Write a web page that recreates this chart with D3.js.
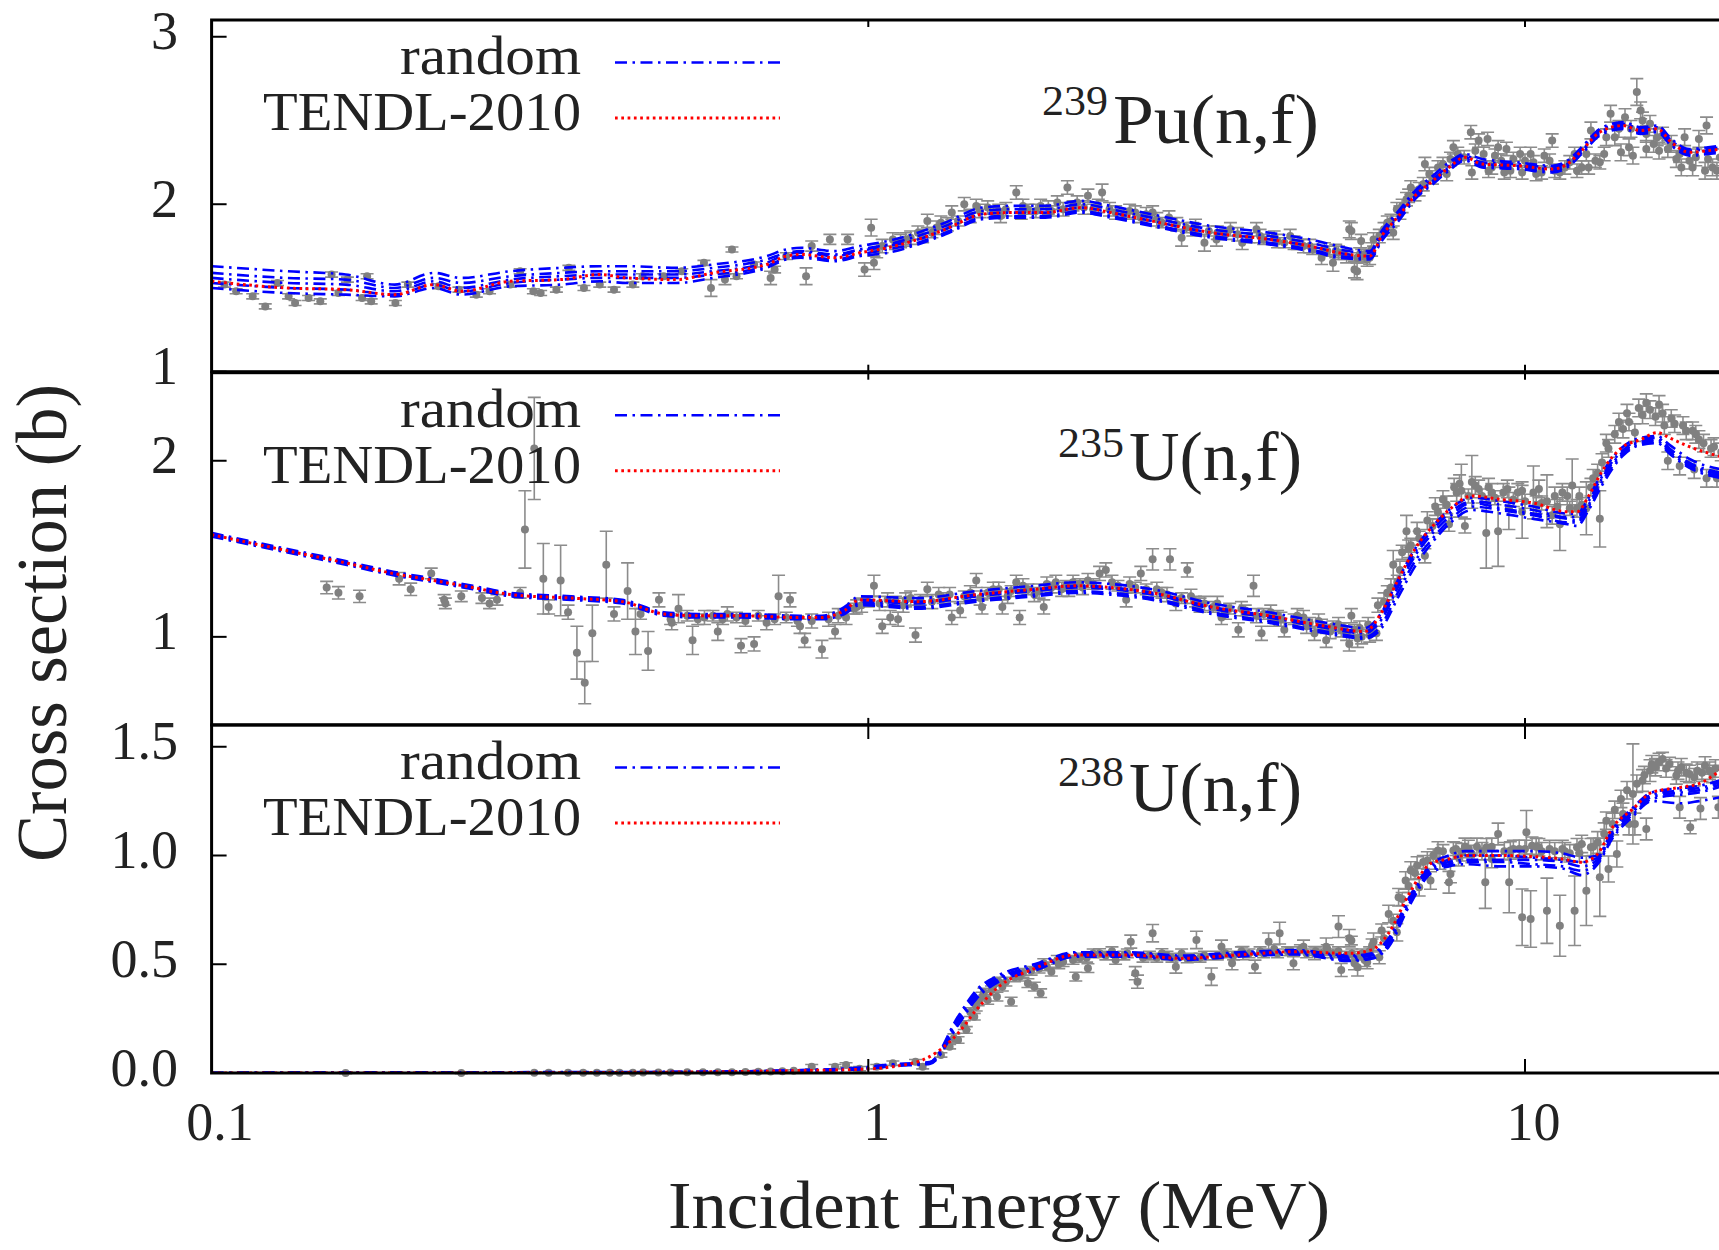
<!DOCTYPE html>
<html>
<head>
<meta charset="utf-8">
<script src="https://cdn.jsdelivr.net/npm/d3@7/dist/d3.min.js"></script>
<style>
    html, body { margin: 0; padding: 0; background: #fff; }
    svg text { fill: #222; }
</style>
</head>
<body>
<div id="chart"></div>
<script>
// ---------- 239Pu(n,f) ----------
const puEnergy = [0.1, 0.13, 0.16, 0.19, 0.218, 0.24, 0.285, 0.34, 0.39, 0.43, 0.51, 0.58, 0.7, 0.75, 0.79, 0.89, 0.97, 1.07, 1.19, 1.31,
    1.49, 1.65, 1.86, 2.11, 2.34, 2.7, 3.33, 4.08, 4.83, 5.2, 5.8, 6.05, 6.42, 6.8, 7.24, 7.66, 8.1, 8.6, 9.75, 11.0,
    11.6, 12.2, 13.0, 14.1, 15.0, 15.9, 16.7, 17.8, 19.0, 20.0];
const puTendl = [1.54, 1.50, 1.49, 1.46, 1.52, 1.48, 1.54, 1.55, 1.58, 1.56, 1.55, 1.59, 1.64, 1.69, 1.70, 1.68, 1.71, 1.74, 1.79, 1.85,
    1.94, 1.95, 1.95, 1.98, 1.95, 1.90, 1.83, 1.79, 1.74, 1.71, 1.69, 1.81, 1.93, 2.05, 2.14, 2.22, 2.28, 2.24, 2.23, 2.21,
    2.24, 2.32, 2.43, 2.47, 2.44, 2.45, 2.37, 2.31, 2.32, 2.33];
const puRandom = [
    [1.63, 1.60, 1.58, 1.52, 1.59, 1.56, 1.60, 1.62, 1.63, 1.63, 1.62, 1.64, 1.69, 1.73, 1.74, 1.72, 1.75, 1.78, 1.83, 1.89,
        1.98, 1.99, 1.99, 2.02, 1.99, 1.94, 1.87, 1.83, 1.78, 1.75, 1.72, 1.84, 1.96, 2.08, 2.17, 2.25, 2.30, 2.27, 2.25, 2.23,
        2.26, 2.34, 2.45, 2.49, 2.46, 2.47, 2.39, 2.33, 2.34, 2.35],
    [1.59, 1.56, 1.55, 1.50, 1.56, 1.53, 1.57, 1.59, 1.60, 1.60, 1.60, 1.62, 1.67, 1.71, 1.72, 1.70, 1.73, 1.76, 1.81, 1.87,
        1.96, 1.97, 1.97, 2.00, 1.97, 1.92, 1.85, 1.81, 1.76, 1.73, 1.71, 1.82, 1.94, 2.06, 2.15, 2.23, 2.29, 2.25, 2.24, 2.22,
        2.25, 2.33, 2.44, 2.48, 2.45, 2.46, 2.38, 2.32, 2.33, 2.34],
    [1.56, 1.53, 1.52, 1.48, 1.54, 1.50, 1.55, 1.57, 1.58, 1.58, 1.58, 1.60, 1.65, 1.70, 1.71, 1.69, 1.72, 1.75, 1.79, 1.85,
        1.94, 1.95, 1.95, 1.98, 1.95, 1.90, 1.83, 1.79, 1.74, 1.71, 1.69, 1.80, 1.93, 2.05, 2.14, 2.22, 2.28, 2.24, 2.23, 2.21,
        2.24, 2.32, 2.43, 2.47, 2.44, 2.45, 2.37, 2.31, 2.32, 2.33],
    [1.53, 1.50, 1.49, 1.46, 1.52, 1.48, 1.53, 1.55, 1.56, 1.56, 1.56, 1.58, 1.63, 1.68, 1.69, 1.67, 1.70, 1.73, 1.77, 1.83,
        1.92, 1.93, 1.93, 1.96, 1.93, 1.88, 1.81, 1.77, 1.72, 1.69, 1.68, 1.79, 1.92, 2.04, 2.13, 2.21, 2.27, 2.23, 2.22, 2.20,
        2.23, 2.31, 2.42, 2.46, 2.43, 2.44, 2.36, 2.30, 2.31, 2.32],
    [1.50, 1.47, 1.46, 1.45, 1.50, 1.46, 1.51, 1.52, 1.54, 1.53, 1.53, 1.56, 1.62, 1.67, 1.68, 1.66, 1.69, 1.71, 1.76, 1.82,
        1.91, 1.92, 1.92, 1.95, 1.92, 1.87, 1.80, 1.76, 1.71, 1.68, 1.67, 1.78, 1.90, 2.03, 2.12, 2.20, 2.26, 2.22, 2.21, 2.19,
        2.22, 2.30, 2.41, 2.45, 2.42, 2.43, 2.35, 2.29, 2.30, 2.31]
];
// [energy (MeV), cross section (b), error]
const puExp = [
    [0.1046, 1.52, 0.015], [0.109, 1.48, 0.015], [0.1155, 1.45, 0.015], [0.1207, 1.39, 0.015], [0.126, 1.53, 0.015],
    [0.131, 1.45, 0.015], [0.134, 1.41, 0.015], [0.1405, 1.44, 0.015], [0.1464, 1.42, 0.015], [0.1523, 1.58, 0.015],
    [0.156, 1.47, 0.015], [0.161, 1.55, 0.015], [0.1695, 1.44, 0.015], [0.1725, 1.57, 0.015], [0.175, 1.42, 0.015],
    [0.1905, 1.41, 0.015], [0.199, 1.52, 0.015], [0.2216, 1.51, 0.015], [0.238, 1.49, 0.015], [0.253, 1.46, 0.015],
    [0.265, 1.48, 0.015], [0.285, 1.52, 0.015], [0.295, 1.60, 0.015], [0.309, 1.48, 0.015], [0.317, 1.47, 0.015],
    [0.335, 1.49, 0.015], [0.35, 1.62, 0.015], [0.369, 1.50, 0.015], [0.39, 1.52, 0.015], [0.41, 1.49, 0.015],
    [0.438, 1.52, 0.015], [0.453, 1.57, 0.015], [0.488, 1.57, 0.015], [0.52, 1.60, 0.015], [0.562, 1.65, 0.015],
    [0.576, 1.50, 0.05], [0.605, 1.55, 0.03], [0.62, 1.73, 0.015], [0.63, 1.57, 0.015], [0.67, 1.64, 0.015],
    [0.71, 1.56, 0.04], [0.72, 1.61, 0.02], [0.75, 1.69, 0.02],
    [0.804, 1.57, 0.05], [0.82, 1.75, 0.03], [0.874, 1.79, 0.03], [0.93, 1.79, 0.03], [0.987, 1.61, 0.04],
    [1.01, 1.86, 0.05], [1.02, 1.65, 0.04], [1.05, 1.75, 0.04], [1.09, 1.79, 0.04], [1.14, 1.79, 0.04],
    [1.19, 1.83, 0.04], [1.23, 1.90, 0.04], [1.29, 1.89, 0.04], [1.34, 1.95, 0.04], [1.40, 2.00, 0.04],
    [1.46, 1.99, 0.04], [1.52, 1.98, 0.04], [1.59, 1.93, 0.04], [1.68, 2.07, 0.04], [1.71, 1.95, 0.04],
    [1.83, 1.99, 0.04], [1.94, 2.01, 0.04], [2.01, 2.10, 0.04], [2.16, 2.05, 0.04], [2.27, 2.07, 0.05],
    [2.38, 1.95, 0.04], [2.55, 1.95, 0.04], [2.71, 1.95, 0.04], [2.87, 1.92, 0.04], [3.0, 1.80, 0.05],
    [3.12, 1.85, 0.04], [3.25, 1.77, 0.05], [3.39, 1.79, 0.04], [3.56, 1.85, 0.04], [3.71, 1.77, 0.04],
    [3.9, 1.85, 0.04], [4.15, 1.80, 0.04], [4.39, 1.81, 0.04], [4.6, 1.75, 0.04], [4.9, 1.68, 0.04],
    [5.1, 1.65, 0.05], [5.2, 1.71, 0.04], [5.4, 1.85, 0.05], [5.5, 1.61, 0.05], [5.64, 1.69, 0.04], [5.84, 1.73, 0.04],
    [1.1, 1.76, 0.03], [1.25, 1.83, 0.03], [1.37, 1.90, 0.03], [1.55, 1.95, 0.03], [1.75, 1.97, 0.03],
    [1.9, 1.96, 0.03], [2.05, 1.99, 0.03], [2.2, 1.97, 0.03], [2.45, 1.94, 0.03], [2.6, 1.92, 0.03],
    [2.8, 1.89, 0.03], [3.05, 1.86, 0.03], [3.3, 1.84, 0.03], [3.5, 1.82, 0.03], [3.8, 1.80, 0.03],
    [4.0, 1.79, 0.03], [4.3, 1.77, 0.03], [4.5, 1.76, 0.03], [4.75, 1.73, 0.03], [5.0, 1.72, 0.03],
    [5.3, 1.70, 0.03], [5.55, 1.68, 0.03], [5.7, 1.70, 0.03],
    [1.03, 1.72, 0.04], [1.12, 1.78, 0.04], [1.16, 1.80, 0.04], [1.21, 1.81, 0.04], [1.27, 1.86, 0.04],
    [1.32, 1.88, 0.04], [1.43, 1.93, 0.04], [1.48, 1.96, 0.04], [1.58, 1.96, 0.04], [1.62, 1.97, 0.04],
    [1.72, 1.99, 0.04], [1.8, 1.96, 0.04], [1.88, 1.98, 0.04], [1.98, 1.97, 0.04], [2.08, 2.01, 0.04],
    [2.13, 1.98, 0.04], [2.24, 1.99, 0.04], [2.33, 1.97, 0.04], [2.5, 1.96, 0.04], [2.65, 1.94, 0.04],
    [2.75, 1.91, 0.04], [2.95, 1.88, 0.04], [3.15, 1.87, 0.04], [3.4, 1.83, 0.04], [3.65, 1.82, 0.04],
    [3.95, 1.81, 0.04], [4.2, 1.78, 0.04], [4.45, 1.77, 0.04], [4.7, 1.75, 0.04], [4.95, 1.73, 0.04],
    [5.15, 1.72, 0.04], [5.35, 1.69, 0.04], [5.6, 1.70, 0.04], [5.8, 1.68, 0.04],
    [5.44, 1.84, 0.05], [5.55, 1.60, 0.05], [5.63, 1.78, 0.04], [5.75, 1.67, 0.04], [5.88, 1.79, 0.04],
    [6.0, 1.81, 0.04], [6.17, 1.89, 0.04], [6.3, 1.83, 0.04], [6.38, 1.97, 0.04], [6.5, 1.99, 0.04],
    [6.6, 2.03, 0.04], [6.7, 2.10, 0.04], [6.9, 2.09, 0.04], [7.04, 2.24, 0.04], [7.23, 2.16, 0.04],
    [7.37, 2.22, 0.04], [7.6, 2.18, 0.04], [7.78, 2.34, 0.04], [8.08, 2.28, 0.04], [8.27, 2.43, 0.04],
    [8.5, 2.38, 0.04], [8.77, 2.39, 0.04], [8.9, 2.22, 0.04], [9.1, 2.34, 0.04], [9.37, 2.33, 0.04],
    [9.5, 2.20, 0.04], [9.83, 2.30, 0.04], [10.2, 2.30, 0.04], [10.4, 2.18, 0.04], [10.7, 2.29, 0.04],
    [11.0, 2.38, 0.04], [11.1, 2.20, 0.04], [11.5, 2.22, 0.04], [11.9, 2.30, 0.04], [12.2, 2.22, 0.04],
    [12.6, 2.44, 0.05], [12.8, 2.26, 0.04], [13.2, 2.30, 0.04], [13.5, 2.54, 0.05], [13.7, 2.40, 0.05],
    [14.2, 2.52, 0.05], [14.4, 2.34, 0.05], [14.6, 2.29, 0.05], [14.8, 2.67, 0.08], [15.0, 2.56, 0.05],
    [15.1, 2.50, 0.05], [15.5, 2.48, 0.05], [15.7, 2.36, 0.05], [16.2, 2.41, 0.05], [16.7, 2.36, 0.05],
    [17.3, 2.22, 0.05], [17.5, 2.40, 0.05], [17.8, 2.26, 0.05], [18.4, 2.39, 0.05], [18.8, 2.20, 0.05],
    [18.9, 2.47, 0.05], [19.3, 2.22, 0.05],
    [8.3, 2.19, 0.04], [8.8, 2.20, 0.04], [9.3, 2.19, 0.04], [9.9, 2.19, 0.04], [10.6, 2.19, 0.04],
    [11.3, 2.19, 0.04], [12.0, 2.20, 0.04], [12.5, 2.22, 0.04], [13.0, 2.25, 0.04], [14.0, 2.31, 0.05],
    [15.3, 2.33, 0.05], [16.0, 2.32, 0.05], [17.0, 2.27, 0.05], [18.0, 2.22, 0.05], [19.6, 2.20, 0.05],
    [6.1, 1.85, 0.04], [6.25, 1.90, 0.04], [6.45, 1.95, 0.04], [6.65, 2.05, 0.04], [6.8, 2.06, 0.04],
    [7.0, 2.12, 0.04], [7.15, 2.18, 0.04], [7.5, 2.24, 0.04], [7.7, 2.27, 0.04], [7.9, 2.30, 0.04],
    [8.4, 2.32, 0.04], [8.65, 2.30, 0.04], [9.0, 2.29, 0.04], [9.2, 2.26, 0.04], [9.6, 2.27, 0.04],
    [10.0, 2.26, 0.04], [10.3, 2.25, 0.04], [10.9, 2.26, 0.04], [11.7, 2.25, 0.04], [12.4, 2.30, 0.04],
    [13.3, 2.40, 0.05], [13.9, 2.45, 0.05], [14.5, 2.45, 0.05], [15.3, 2.42, 0.05], [15.9, 2.40, 0.05],
    [16.5, 2.33, 0.05], [17.2, 2.30, 0.05], [18.2, 2.28, 0.05], [19.0, 2.27, 0.05], [19.8, 2.28, 0.05]
];
const puTicks = [1, 2, 3];
const puTickLabels = ["1", "2", "3"];

// ---------- 235U(n,f) ----------
const u235Energy = [0.1, 0.13, 0.16, 0.189, 0.218, 0.25, 0.285, 0.353, 0.422, 0.488, 0.55, 0.635, 0.787, 0.85, 0.92, 0.97, 1.19, 1.46, 1.79, 2.07,
    2.34, 2.71, 3.33, 4.07, 4.98, 5.7, 6.05, 6.42, 6.8, 7.24, 7.66, 8.3, 9.2, 10.3, 11.6, 12.0, 12.5, 13.1, 14.1, 15.0,
    15.9, 16.6, 17.8, 20.0];
const u235Tendl = [1.58, 1.49, 1.42, 1.36, 1.32, 1.28, 1.24, 1.22, 1.20, 1.13, 1.12, 1.12, 1.11, 1.11, 1.15, 1.21, 1.20, 1.24, 1.27, 1.29,
    1.28, 1.25, 1.17, 1.12, 1.06, 1.03, 1.14, 1.33, 1.50, 1.63, 1.72, 1.80, 1.78, 1.76, 1.71, 1.71, 1.80, 1.94, 2.08, 2.12,
    2.16, 2.13, 2.08, 2.02];
const u235Random = [
    [1.59, 1.50, 1.43, 1.37, 1.33, 1.29, 1.25, 1.23, 1.21, 1.14, 1.13, 1.13, 1.12, 1.12, 1.17, 1.23, 1.22, 1.26, 1.29, 1.31,
        1.30, 1.27, 1.19, 1.14, 1.08, 1.05, 1.14, 1.33, 1.50, 1.63, 1.72, 1.79, 1.77, 1.74, 1.70, 1.70, 1.79, 1.93, 2.08, 2.13,
        2.14, 2.09, 2.01, 1.95],
    [1.585, 1.495, 1.425, 1.365, 1.325, 1.285, 1.245, 1.225, 1.205, 1.135, 1.125, 1.125, 1.115, 1.115, 1.16, 1.21, 1.20, 1.24, 1.27, 1.29,
        1.28, 1.25, 1.17, 1.12, 1.06, 1.03, 1.12, 1.31, 1.48, 1.61, 1.70, 1.77, 1.75, 1.72, 1.68, 1.68, 1.77, 1.91, 2.06, 2.12,
        2.13, 2.07, 1.99, 1.93],
    [1.58, 1.49, 1.42, 1.36, 1.32, 1.28, 1.24, 1.22, 1.20, 1.13, 1.12, 1.12, 1.11, 1.11, 1.15, 1.20, 1.19, 1.23, 1.26, 1.28,
        1.27, 1.24, 1.16, 1.11, 1.05, 1.02, 1.10, 1.29, 1.46, 1.59, 1.68, 1.76, 1.73, 1.70, 1.67, 1.66, 1.75, 1.90, 2.05, 2.11,
        2.12, 2.06, 1.98, 1.92],
    [1.575, 1.485, 1.415, 1.355, 1.315, 1.275, 1.235, 1.215, 1.195, 1.125, 1.115, 1.115, 1.105, 1.105, 1.14, 1.19, 1.17, 1.21, 1.24, 1.26,
        1.25, 1.22, 1.14, 1.09, 1.03, 1.00, 1.07, 1.26, 1.43, 1.56, 1.66, 1.74, 1.72, 1.69, 1.65, 1.65, 1.74, 1.88, 2.04, 2.10,
        2.11, 2.05, 1.97, 1.91],
    [1.57, 1.48, 1.41, 1.35, 1.31, 1.27, 1.23, 1.21, 1.19, 1.12, 1.11, 1.11, 1.10, 1.10, 1.13, 1.18, 1.16, 1.20, 1.23, 1.25,
        1.24, 1.21, 1.13, 1.08, 1.02, 0.99, 1.05, 1.23, 1.40, 1.54, 1.64, 1.72, 1.70, 1.67, 1.64, 1.63, 1.72, 1.86, 2.03, 2.09,
        2.10, 2.04, 1.96, 1.90]
];
const u235Exp = [
    [0.1497, 1.28, 0.035], [0.156, 1.25, 0.035], [0.168, 1.23, 0.035], [0.193, 1.33, 0.035], [0.201, 1.27, 0.035],
    [0.216, 1.36, 0.03], [0.226, 1.21, 0.03], [0.227, 1.19, 0.03], [0.24, 1.23, 0.03], [0.258, 1.22, 0.03],
    [0.265, 1.19, 0.03], [0.272, 1.21, 0.03], [0.295, 1.25, 0.03], [0.30, 1.61, 0.22], [0.31, 2.07, 0.29],
    [0.32, 1.33, 0.2], [0.326, 1.17, 0.04], [0.34, 1.32, 0.2], [0.349, 1.14, 0.04], [0.36, 0.91, 0.15],
    [0.37, 0.74, 0.12], [0.38, 1.02, 0.16], [0.399, 1.41, 0.19], [0.41, 1.13, 0.04], [0.43, 1.26, 0.16],
    [0.442, 1.03, 0.13], [0.462, 0.92, 0.11], [0.48, 1.21, 0.04], [0.502, 1.08, 0.04], [0.514, 1.16, 0.08],
    [0.54, 0.98, 0.08], [0.563, 1.11, 0.04], [0.59, 1.03, 0.05], [0.61, 1.13, 0.04], [0.64, 0.95, 0.04],
    [0.67, 0.96, 0.04], [0.70, 1.08, 0.04], [0.73, 1.23, 0.12], [0.76, 1.21, 0.04],
    [0.45, 1.13, 0.03], [0.5, 1.10, 0.03], [0.53, 1.12, 0.03], [0.55, 1.10, 0.03], [0.58, 1.12, 0.03],
    [0.6, 1.10, 0.03], [0.63, 1.11, 0.03], [0.65, 1.09, 0.03], [0.68, 1.12, 0.03], [0.72, 1.10, 0.03],
    [0.75, 1.11, 0.03], [0.78, 1.09, 0.03],
    [0.787, 1.06, 0.04], [0.80, 0.98, 0.04], [0.85, 0.93, 0.05], [0.89, 1.03, 0.04], [0.925, 1.11, 0.04],
    [0.977, 1.18, 0.04], [1.02, 1.29, 0.06], [1.05, 1.06, 0.04], [1.08, 1.11, 0.04], [1.11, 1.10, 0.04],
    [1.14, 1.21, 0.04], [1.18, 1.01, 0.04], [1.23, 1.27, 0.04], [1.28, 1.24, 0.04], [1.34, 1.11, 0.04],
    [1.38, 1.15, 0.04], [1.46, 1.32, 0.04], [1.49, 1.17, 0.04], [1.55, 1.27, 0.04], [1.6, 1.17, 0.04],
    [1.68, 1.31, 0.04], [1.7, 1.11, 0.04], [1.79, 1.24, 0.04], [1.85, 1.17, 0.04], [1.93, 1.31, 0.04],
    [2.02, 1.27, 0.04], [2.16, 1.32, 0.04], [2.25, 1.36, 0.04], [2.3, 1.38, 0.04], [2.47, 1.21, 0.04],
    [2.6, 1.36, 0.04], [2.71, 1.44, 0.06], [2.88, 1.44, 0.06], [2.94, 1.19, 0.04], [3.06, 1.38, 0.04],
    [3.25, 1.19, 0.04], [3.45, 1.11, 0.04], [3.66, 1.04, 0.04], [3.86, 1.29, 0.06], [3.97, 1.02, 0.04],
    [4.15, 1.10, 0.04], [4.3, 1.04, 0.04], [4.6, 1.11, 0.04], [4.78, 1.02, 0.04], [4.98, 0.98, 0.04],
    [5.25, 1.04, 0.04], [5.4, 0.96, 0.04], [5.64, 1.0, 0.04], [5.94, 1.02, 0.04],
    [0.95, 1.16, 0.03], [1.0, 1.20, 0.03], [1.1, 1.20, 0.03], [1.2, 1.21, 0.03], [1.3, 1.22, 0.03],
    [1.4, 1.23, 0.03], [1.52, 1.25, 0.03], [1.65, 1.26, 0.03], [1.75, 1.27, 0.03], [1.9, 1.28, 0.03],
    [2.0, 1.29, 0.03], [2.1, 1.30, 0.03], [2.2, 1.30, 0.03], [2.4, 1.29, 0.03], [2.55, 1.28, 0.03],
    [2.65, 1.27, 0.03], [2.8, 1.25, 0.03], [3.0, 1.22, 0.03], [3.15, 1.20, 0.03], [3.35, 1.17, 0.03],
    [3.55, 1.16, 0.03], [3.75, 1.15, 0.03], [4.0, 1.13, 0.03], [4.2, 1.12, 0.03], [4.45, 1.10, 0.03],
    [4.7, 1.08, 0.03], [4.9, 1.07, 0.03], [5.1, 1.06, 0.03], [5.3, 1.05, 0.03], [5.5, 1.04, 0.03],
    [0.82, 1.09, 0.04], [0.87, 1.10, 0.04], [0.9, 1.12, 0.04], [0.96, 1.17, 0.04], [1.04, 1.19, 0.04],
    [1.07, 1.21, 0.04], [1.13, 1.18, 0.04], [1.16, 1.22, 0.04], [1.25, 1.20, 0.04], [1.33, 1.24, 0.04],
    [1.43, 1.25, 0.04], [1.48, 1.22, 0.04], [1.58, 1.27, 0.04], [1.63, 1.23, 0.04], [1.72, 1.29, 0.04],
    [1.82, 1.26, 0.04], [1.87, 1.30, 0.04], [1.97, 1.27, 0.04], [2.05, 1.31, 0.04], [2.12, 1.28, 0.04],
    [2.35, 1.31, 0.04], [2.5, 1.30, 0.04], [2.75, 1.27, 0.04], [2.85, 1.24, 0.04], [3.1, 1.23, 0.04],
    [3.2, 1.18, 0.04], [3.4, 1.19, 0.04], [3.5, 1.14, 0.04], [3.7, 1.16, 0.04], [3.9, 1.12, 0.04],
    [4.1, 1.14, 0.04], [4.25, 1.10, 0.04], [4.5, 1.12, 0.04], [4.65, 1.06, 0.04], [4.85, 1.09, 0.04],
    [5.05, 1.03, 0.04], [5.2, 1.07, 0.04], [5.35, 1.02, 0.04], [5.6, 1.05, 0.04], [5.8, 1.01, 0.04],
    [5.44, 1.12, 0.04], [5.56, 0.99, 0.05], [5.77, 1.07, 0.04], [5.97, 1.18, 0.04], [6.17, 1.25, 0.04],
    [6.3, 1.41, 0.08], [6.39, 1.31, 0.04], [6.5, 1.48, 0.04], [6.6, 1.60, 0.09], [6.7, 1.52, 0.04],
    [6.9, 1.56, 0.04], [7.04, 1.46, 0.04], [7.23, 1.63, 0.04], [7.37, 1.71, 0.04], [7.6, 1.75, 0.05],
    [7.66, 1.64, 0.04], [7.87, 1.82, 0.05], [8.0, 1.83, 0.15], [8.1, 1.63, 0.04], [8.3, 1.88, 0.15],
    [8.5, 1.84, 0.05], [8.73, 1.59, 0.2], [8.9, 1.82, 0.05], [9.1, 1.60, 0.2], [9.27, 1.82, 0.05],
    [9.45, 1.73, 0.12], [9.75, 1.82, 0.05], [9.9, 1.71, 0.15], [10.3, 1.82, 0.15], [10.4, 1.75, 0.05],
    [10.8, 1.77, 0.15], [11.0, 1.69, 0.05], [11.3, 1.64, 0.15], [11.4, 1.82, 0.05], [11.8, 1.86, 0.15],
    [12.0, 1.73, 0.05], [12.4, 1.73, 0.15], [12.7, 1.90, 0.05], [13.0, 1.67, 0.16], [13.1, 1.99, 0.05],
    [13.4, 2.07, 0.05], [13.7, 2.15, 0.05], [14.1, 2.18, 0.05], [14.4, 2.22, 0.05], [14.7, 2.16, 0.05],
    [15.1, 2.26, 0.05], [15.5, 2.29, 0.05], [16.0, 2.32, 0.05], [16.3, 2.20, 0.05], [16.5, 2.0, 0.05],
    [16.9, 2.21, 0.05], [17.2, 1.97, 0.05], [17.6, 2.17, 0.05], [18.0, 2.17, 0.05], [18.1, 1.95, 0.05],
    [18.4, 2.12, 0.05], [18.9, 1.90, 0.05], [19.2, 2.07, 0.05], [19.6, 1.90, 0.05],
    [8.2, 1.80, 0.04], [8.6, 1.80, 0.04], [9.0, 1.79, 0.04], [9.6, 1.78, 0.04], [10.0, 1.77, 0.04],
    [10.6, 1.76, 0.04], [11.2, 1.74, 0.04], [11.7, 1.73, 0.04], [12.2, 1.75, 0.04],
    [6.1, 1.20, 0.05], [6.25, 1.28, 0.05], [6.45, 1.38, 0.05], [6.65, 1.50, 0.05], [6.85, 1.60, 0.05],
    [7.1, 1.66, 0.05], [7.3, 1.74, 0.05], [7.5, 1.78, 0.05], [7.8, 1.85, 0.05], [7.95, 1.87, 0.05],
    [8.4, 1.86, 0.05], [8.8, 1.85, 0.05], [9.4, 1.84, 0.05], [9.9, 1.83, 0.05], [10.5, 1.84, 0.05],
    [11.1, 1.80, 0.05], [11.6, 1.80, 0.05], [12.1, 1.80, 0.05], [12.6, 1.85, 0.05], [12.9, 1.93, 0.05],
    [13.3, 2.10, 0.05], [13.9, 2.22, 0.05], [14.3, 2.27, 0.05], [14.9, 2.30, 0.05], [15.3, 2.33, 0.05],
    [15.8, 2.25, 0.05], [16.2, 2.27, 0.05], [16.7, 2.24, 0.05], [17.4, 2.20, 0.05], [18.2, 2.15, 0.05],
    [18.7, 2.10, 0.05], [19.4, 2.08, 0.05], [19.9, 2.05, 0.05]
];
const u235Ticks = [1, 2];
const u235TickLabels = ["1", "2"];

// ---------- 238U(n,f) ----------
const u238Energy = [0.1, 0.2, 0.5, 0.787, 0.97, 1.09, 1.24, 1.37, 1.46, 1.58, 1.79, 2.07, 2.5, 3.0, 3.66, 4.48, 5.4, 5.84, 6.2, 6.67,
    7.2, 7.66, 8.1, 9.2, 10.3, 11.4, 12.2, 12.9, 13.6, 14.6, 15.6, 17.3, 18.4, 20.0];
const u238Tendl = [0, 0, 0.004, 0.011, 0.017, 0.029, 0.075, 0.183, 0.29, 0.397, 0.48, 0.543, 0.543, 0.527, 0.543, 0.558, 0.55, 0.566, 0.643, 0.827,
    0.965, 0.984, 1.0, 1.0, 0.995, 0.984, 0.969, 1.007, 1.13, 1.214, 1.29, 1.314, 1.33, 1.40];
const u238Random = [
    [0, 0.003, 0.005, 0.013, 0.025, 0.04, 0.05, 0.26, 0.38, 0.45, 0.50, 0.555, 0.555, 0.54, 0.555, 0.565, 0.54, 0.55, 0.62, 0.81,
        0.96, 1.0, 1.02, 1.02, 1.02, 1.01, 0.99, 1.0, 1.12, 1.22, 1.29, 1.31, 1.32, 1.35],
    [0, 0.002, 0.004, 0.012, 0.022, 0.038, 0.048, 0.25, 0.37, 0.44, 0.49, 0.55, 0.55, 0.535, 0.55, 0.56, 0.535, 0.545, 0.61, 0.80,
        0.95, 0.98, 1.0, 1.0, 0.99, 0.98, 0.97, 0.99, 1.11, 1.21, 1.28, 1.30, 1.31, 1.34],
    [0, 0.001, 0.004, 0.011, 0.02, 0.036, 0.046, 0.24, 0.36, 0.435, 0.485, 0.545, 0.545, 0.53, 0.545, 0.555, 0.53, 0.54, 0.60, 0.79,
        0.94, 0.97, 0.98, 0.98, 0.98, 0.97, 0.95, 0.98, 1.10, 1.20, 1.27, 1.29, 1.30, 1.33],
    [0, 0.001, 0.003, 0.010, 0.018, 0.034, 0.044, 0.23, 0.35, 0.43, 0.48, 0.54, 0.54, 0.525, 0.54, 0.55, 0.52, 0.53, 0.59, 0.78,
        0.93, 0.96, 0.97, 0.97, 0.96, 0.95, 0.93, 0.97, 1.09, 1.19, 1.26, 1.28, 1.29, 1.32],
    [0, 0, 0.003, 0.009, 0.016, 0.032, 0.042, 0.22, 0.34, 0.42, 0.47, 0.535, 0.535, 0.52, 0.535, 0.545, 0.515, 0.525, 0.58, 0.77,
        0.92, 0.95, 0.96, 0.95, 0.95, 0.94, 0.91, 0.96, 1.08, 1.18, 1.25, 1.24, 1.25, 1.27]
];
const u238Exp = [
    [0.16, 0.0, 0.003], [0.24, 0.0, 0.003], [0.31, 0.001, 0.003], [0.326, 0.001, 0.003], [0.349, 0.001, 0.003],
    [0.368, 0.001, 0.003], [0.386, 0.001, 0.003], [0.404, 0.001, 0.003], [0.418, 0.001, 0.003], [0.438, 0.001, 0.003],
    [0.454, 0.002, 0.003], [0.479, 0.002, 0.003], [0.5, 0.002, 0.003], [0.53, 0.003, 0.004], [0.56, 0.003, 0.004],
    [0.59, 0.004, 0.004], [0.62, 0.004, 0.004], [0.65, 0.005, 0.004], [0.68, 0.006, 0.005], [0.71, 0.007, 0.005],
    [0.74, 0.008, 0.005], [0.77, 0.01, 0.005],
    [0.82, 0.029, 0.01], [0.89, 0.029, 0.01], [0.925, 0.037, 0.01], [0.97, 0.02, 0.01], [1.03, 0.029, 0.01],
    [1.09, 0.045, 0.01], [1.18, 0.052, 0.01], [1.21, 0.029, 0.01], [1.29, 0.083, 0.01], [1.33, 0.121, 0.01],
    [1.37, 0.152, 0.015], [1.41, 0.198, 0.015], [1.45, 0.259, 0.015], [1.46, 0.305, 0.02], [1.49, 0.351, 0.02],
    [1.52, 0.336, 0.02], [1.57, 0.351, 0.02], [1.6, 0.397, 0.02], [1.65, 0.328, 0.02], [1.70, 0.443, 0.02],
    [1.75, 0.413, 0.02], [1.79, 0.397, 0.02], [1.83, 0.367, 0.02], [1.85, 0.505, 0.02], [1.9, 0.466, 0.02],
    [1.94, 0.52, 0.02], [2.07, 0.443, 0.02], [2.16, 0.482, 0.02], [2.25, 0.551, 0.02], [2.38, 0.52, 0.02],
    [2.51, 0.604, 0.03], [2.55, 0.459, 0.03], [2.57, 0.42, 0.03], [2.71, 0.643, 0.04], [2.8, 0.551, 0.02],
    [2.94, 0.489, 0.03], [3.06, 0.527, 0.02], [3.16, 0.612, 0.04], [3.33, 0.443, 0.04], [3.45, 0.581, 0.03],
    [3.58, 0.505, 0.03], [3.72, 0.551, 0.03], [3.88, 0.489, 0.03], [4.07, 0.604, 0.04], [4.23, 0.643, 0.05],
    [4.44, 0.505, 0.03], [4.6, 0.581, 0.03], [4.78, 0.551, 0.03], [4.98, 0.581, 0.04], [5.2, 0.673, 0.05],
    [5.25, 0.474, 0.03], [5.4, 0.62, 0.04], [5.5, 0.505, 0.03], [5.7, 0.52, 0.03], [5.88, 0.604, 0.04],
    [1.55, 0.40, 0.02], [1.62, 0.42, 0.02], [1.72, 0.46, 0.02], [1.82, 0.48, 0.02], [1.95, 0.50, 0.02],
    [2.05, 0.52, 0.02], [2.15, 0.53, 0.02], [2.3, 0.54, 0.02], [2.45, 0.54, 0.02], [2.62, 0.53, 0.02],
    [2.75, 0.53, 0.02], [2.9, 0.53, 0.02], [3.1, 0.53, 0.02], [3.25, 0.54, 0.02], [3.4, 0.54, 0.02],
    [3.6, 0.54, 0.02], [3.8, 0.55, 0.02], [4.0, 0.55, 0.02], [4.2, 0.55, 0.02], [4.4, 0.56, 0.02],
    [4.65, 0.55, 0.02], [4.9, 0.55, 0.02], [5.1, 0.55, 0.02], [5.35, 0.54, 0.02], [5.6, 0.54, 0.02],
    [1.35, 0.16, 0.02], [1.4, 0.22, 0.02], [1.43, 0.28, 0.02], [1.47, 0.33, 0.02], [1.5, 0.37, 0.02],
    [1.54, 0.38, 0.02], [1.58, 0.42, 0.02], [1.67, 0.44, 0.02], [1.77, 0.47, 0.02], [1.87, 0.49, 0.02],
    [1.98, 0.51, 0.02], [2.1, 0.53, 0.02], [2.2, 0.55, 0.02], [2.35, 0.56, 0.02], [2.48, 0.55, 0.02],
    [2.68, 0.54, 0.02], [2.85, 0.54, 0.02], [3.0, 0.55, 0.02], [3.2, 0.53, 0.02], [3.5, 0.55, 0.02],
    [3.7, 0.56, 0.02], [3.95, 0.56, 0.02], [4.15, 0.57, 0.02], [4.35, 0.56, 0.02], [4.55, 0.57, 0.02],
    [4.8, 0.56, 0.02], [5.0, 0.57, 0.02], [5.2, 0.56, 0.02], [5.45, 0.55, 0.02], [5.65, 0.55, 0.02],
    [5.8, 0.56, 0.02],
    [5.44, 0.609, 0.02], [5.56, 0.486, 0.04], [5.75, 0.509, 0.03], [5.85, 0.586, 0.03], [6.0, 0.532, 0.03],
    [6.05, 0.655, 0.03], [6.2, 0.731, 0.04], [6.38, 0.647, 0.04], [6.42, 0.808, 0.04], [6.58, 0.885, 0.04],
    [6.7, 0.931, 0.04], [6.85, 0.954, 0.04], [6.9, 0.854, 0.04], [7.1, 0.977, 0.04], [7.18, 0.885, 0.04],
    [7.37, 1.023, 0.04], [7.42, 0.977, 0.04], [7.66, 0.877, 0.05], [7.7, 0.915, 0.04], [7.78, 1.023, 0.04],
    [7.92, 0.992, 0.04], [8.03, 1.015, 0.04], [8.3, 1.007, 0.04], [8.7, 0.877, 0.12], [8.74, 1.038, 0.04],
    [8.9, 0.984, 0.04], [9.1, 1.099, 0.05], [9.46, 0.877, 0.14], [9.5, 1.023, 0.04], [9.9, 0.716, 0.13],
    [10.05, 1.107, 0.1], [10.2, 0.708, 0.13], [10.25, 1.045, 0.04], [10.5, 1.038, 0.04], [10.8, 0.746, 0.15],
    [11.3, 0.677, 0.14], [11.4, 1.03, 0.04], [11.9, 0.746, 0.16], [12.0, 1.038, 0.04], [12.2, 1.053, 0.04],
    [12.4, 0.838, 0.16], [12.6, 1.038, 0.04], [13.0, 0.9, 0.18], [13.4, 0.938, 0.06], [13.6, 1.145, 0.05],
    [13.8, 1.007, 0.06], [14.1, 1.191, 0.05], [14.4, 1.145, 0.05], [14.6, 1.283, 0.23], [14.7, 1.145, 0.05],
    [15.1, 1.345, 0.05], [15.3, 1.122, 0.05], [15.5, 1.39, 0.05], [15.8, 1.406, 0.04], [16.2, 1.444, 0.03],
    [16.6, 1.421, 0.03], [17.0, 1.368, 0.04], [17.2, 1.222, 0.05], [17.3, 1.406, 0.04], [17.8, 1.375, 0.04],
    [17.85, 1.13, 0.03], [18.3, 1.39, 0.04], [18.5, 1.216, 0.05], [18.8, 1.414, 0.04], [19.3, 1.375, 0.04],
    [19.7, 1.222, 0.05],
    [8.2, 1.03, 0.04], [8.6, 1.02, 0.04], [9.3, 1.02, 0.04], [9.8, 1.03, 0.04], [10.6, 1.02, 0.04],
    [11.1, 1.02, 0.04], [11.7, 1.01, 0.04], [12.9, 1.06, 0.05], [13.2, 1.10, 0.05],
    [6.1, 0.62, 0.03], [6.3, 0.70, 0.03], [6.5, 0.80, 0.03], [6.65, 0.86, 0.03], [6.8, 0.92, 0.03],
    [7.0, 0.97, 0.03], [7.25, 1.0, 0.03], [7.5, 1.02, 0.03], [7.85, 1.03, 0.03],
    [8.1, 1.04, 0.04], [8.45, 1.04, 0.04], [8.9, 1.04, 0.04], [9.6, 1.03, 0.04], [10.0, 1.03, 0.04],
    [10.4, 1.04, 0.04], [10.9, 1.03, 0.04], [11.5, 1.02, 0.04], [12.1, 1.01, 0.04], [12.7, 1.04, 0.04],
    [13.3, 1.16, 0.04], [13.7, 1.21, 0.04], [14.0, 1.26, 0.04], [14.3, 1.30, 0.04], [14.8, 1.33, 0.04],
    [15.2, 1.37, 0.04], [15.6, 1.42, 0.04], [16.0, 1.43, 0.04], [16.4, 1.40, 0.04], [17.1, 1.39, 0.04],
    [17.6, 1.38, 0.04], [18.1, 1.36, 0.04], [18.6, 1.38, 0.04], [19.1, 1.39, 0.04], [19.5, 1.40, 0.04]
];
const u238Ticks = [0, 0.5, 1.0, 1.5];
const u238TickLabels = ["0.0", "0.5", "1.0", "1.5"];

// x axis
const energyTicks = [0.1, 1, 10];
const energyTickLabels = ["0.1", "1", "10"];

const panels = [
    { energy: puEnergy, tendl: puTendl, random: puRandom, exp: puExp, yDomain: [1, 3.1], ticks: puTicks, tickLabels: puTickLabels, iso: "239", reaction: "Pu(n,f)" },
    { energy: u235Energy, tendl: u235Tendl, random: u235Random, exp: u235Exp, yDomain: [0.5, 2.5], ticks: u235Ticks, tickLabels: u235TickLabels, iso: "235", reaction: "U(n,f)" },
    { energy: u238Energy, tendl: u238Tendl, random: u238Random, exp: u238Exp, yDomain: [0, 1.6], ticks: u238Ticks, tickLabels: u238TickLabels, iso: "238", reaction: "U(n,f)" }
];

// frame geometry of each panel (pixels)
const layout = [
    { top: 20, bottom: 371.7, xTick: 7, labelX: 1042, labelY: 143, supY: 115, labelW: 206 },
    { top: 372.7, bottom: 724.9, xTick: 7, labelX: 1058, labelY: 480, supY: 457, labelW: 173 },
    { top: 725, bottom: 1073, xTick: 14, labelX: 1058, labelY: 811, supY: 786, labelW: 173 }
];

const width = 1719, height = 1250;
const plotLeft = 211.6, decade = 656.7;
const serif = "'Liberation Serif', 'Times New Roman', 'DejaVu Serif', serif";

const drawChart = (element) => {
    d3.select(element).select("svg").remove();

    const svg = d3
        .select(element)
        .append("svg")
        .attr("width", width)
        .attr("height", height)
        .attr("viewBox", `0 0 ${width} ${height}`)
        .attr("font-family", serif);

    svg.append("rect").attr("width", width).attr("height", height).attr("fill", "#fff");

    const x = d3.scaleLog()
        .domain([0.1, 20])
        .range([plotLeft, plotLeft + decade * Math.log10(200)]);
    const plotRight = x.range()[1];

    panels.forEach((p, i) => {
        const box = layout[i];
        const y = d3.scaleLinear().domain(p.yDomain).range([box.bottom, box.top]);
        const g = svg.append("g");

        g.append("clipPath")
            .attr("id", `clip${i}`)
            .append("rect")
            .attr("x", plotLeft)
            .attr("y", box.top)
            .attr("width", plotRight - plotLeft)
            .attr("height", box.bottom - box.top);

        // experimental points with error bars (not clipped, like gnuplot)
        const expG = g.append("g");
        expG.selectAll("path")
            .data(p.exp)
            .join("path")
            .attr("d", (d) => {
                const cx = x(d[0]), lo = y(d[1] - d[2]), hi = y(d[1] + d[2]);
                return `M${cx - 6.5},${lo}H${cx + 6.5}M${cx},${lo}V${hi}M${cx - 6.5},${hi}H${cx + 6.5}`;
            })
            .attr("fill", "none")
            .attr("stroke", "#8c8c8c")
            .attr("stroke-width", 1.6);

        expG.selectAll("circle")
            .data(p.exp)
            .join("circle")
            .attr("cx", (d) => x(d[0]))
            .attr("cy", (d) => y(d[1]))
            .attr("r", 4)
            .attr("fill", "#808080");

        const plot = g.append("g").attr("clip-path", `url(#clip${i})`);

        const line = (values) => d3.line()
            .x((d, j) => x(p.energy[j]))
            .y((d) => y(d))
            .curve(d3.curveMonotoneX)(values);

        // random files
        plot.append("g")
            .selectAll("path")
            .data(p.random)
            .join("path")
            .attr("d", line)
            .attr("fill", "none")
            .attr("stroke", "#0000ff")
            .attr("stroke-width", 2.6)
            .attr("stroke-dasharray", "12,5.5,2.5,5.5");

        // TENDL-2010
        plot.append("path")
            .attr("d", line(p.tendl))
            .attr("fill", "none")
            .attr("stroke", "#ff0000")
            .attr("stroke-width", 3)
            .attr("stroke-dasharray", "2.7,3.6");

        // frame
        g.append("rect")
            .attr("x", plotLeft)
            .attr("y", box.top)
            .attr("width", plotRight - plotLeft)
            .attr("height", box.bottom - box.top)
            .attr("fill", "none")
            .attr("stroke", "#000")
            .attr("stroke-width", 3);

        // y ticks
        p.ticks.forEach((t, k) => {
            g.append("line")
                .attr("x1", plotLeft).attr("x2", plotLeft + 15)
                .attr("y1", y(t)).attr("y2", y(t))
                .attr("stroke", "#000").attr("stroke-width", 2);
            g.append("text")
                .attr("x", 178)
                .attr("y", y(t) + 12.5)
                .attr("text-anchor", "end")
                .style("font-size", "54px")
                .text(p.tickLabels[k]);
        });

        // x ticks (top and bottom of each panel)
        energyTicks.slice(1).forEach((t) => {
            g.append("line")
                .attr("x1", x(t)).attr("x2", x(t))
                .attr("y1", box.top).attr("y2", box.top + box.xTick)
                .attr("stroke", "#000").attr("stroke-width", 2);
            g.append("line")
                .attr("x1", x(t)).attr("x2", x(t))
                .attr("y1", box.bottom).attr("y2", box.bottom - box.xTick)
                .attr("stroke", "#000").attr("stroke-width", 2);
        });

        // legend
        g.append("text")
            .attr("x", 581).attr("y", box.top + 54)
            .attr("text-anchor", "end")
            .attr("textLength", 181).attr("lengthAdjust", "spacingAndGlyphs")
            .style("font-size", "54px")
            .text("random");
        g.append("text")
            .attr("x", 581).attr("y", box.top + 110)
            .attr("text-anchor", "end")
            .attr("textLength", 318).attr("lengthAdjust", "spacingAndGlyphs")
            .style("font-size", "54px")
            .text("TENDL-2010");
        g.append("line")
            .attr("x1", 615).attr("x2", 780)
            .attr("y1", box.top + 42.5).attr("y2", box.top + 42.5)
            .attr("stroke", "#0000ff").attr("stroke-width", 2.6)
            .attr("stroke-dasharray", "12,5.5,2.5,5.5");
        g.append("line")
            .attr("x1", 615).attr("x2", 780)
            .attr("y1", box.top + 98).attr("y2", box.top + 98)
            .attr("stroke", "#ff0000").attr("stroke-width", 3)
            .attr("stroke-dasharray", "2.7,3.6");

        // reaction label
        g.append("text")
            .attr("x", box.labelX).attr("y", box.supY)
            .attr("textLength", 66).attr("lengthAdjust", "spacingAndGlyphs")
            .style("font-size", "43px")
            .text(p.iso);
        g.append("text")
            .attr("x", box.labelX + 71).attr("y", box.labelY)
            .attr("textLength", box.labelW).attr("lengthAdjust", "spacingAndGlyphs")
            .style("font-size", "70px")
            .text(p.reaction);
    });

    // x tick labels under the bottom panel
    energyTicks.forEach((t, k) => {
        svg.append("text")
            .attr("x", x(t) + 8.5)
            .attr("y", 1140)
            .attr("text-anchor", "middle")
            .style("font-size", "54px")
            .text(energyTickLabels[k]);
    });

    // axis titles
    svg.append("text")
        .attr("x", 668).attr("y", 1228)
        .attr("textLength", 662).attr("lengthAdjust", "spacingAndGlyphs")
        .style("font-size", "68px")
        .text("Incident Energy (MeV)");

    svg.append("text")
        .attr("transform", "translate(66,623) rotate(-90)")
        .attr("text-anchor", "middle")
        .attr("textLength", 478).attr("lengthAdjust", "spacingAndGlyphs")
        .style("font-size", "72px")
        .text("Cross section (b)");
};

drawChart(document.getElementById("chart"));
</script>
</body>
</html>
